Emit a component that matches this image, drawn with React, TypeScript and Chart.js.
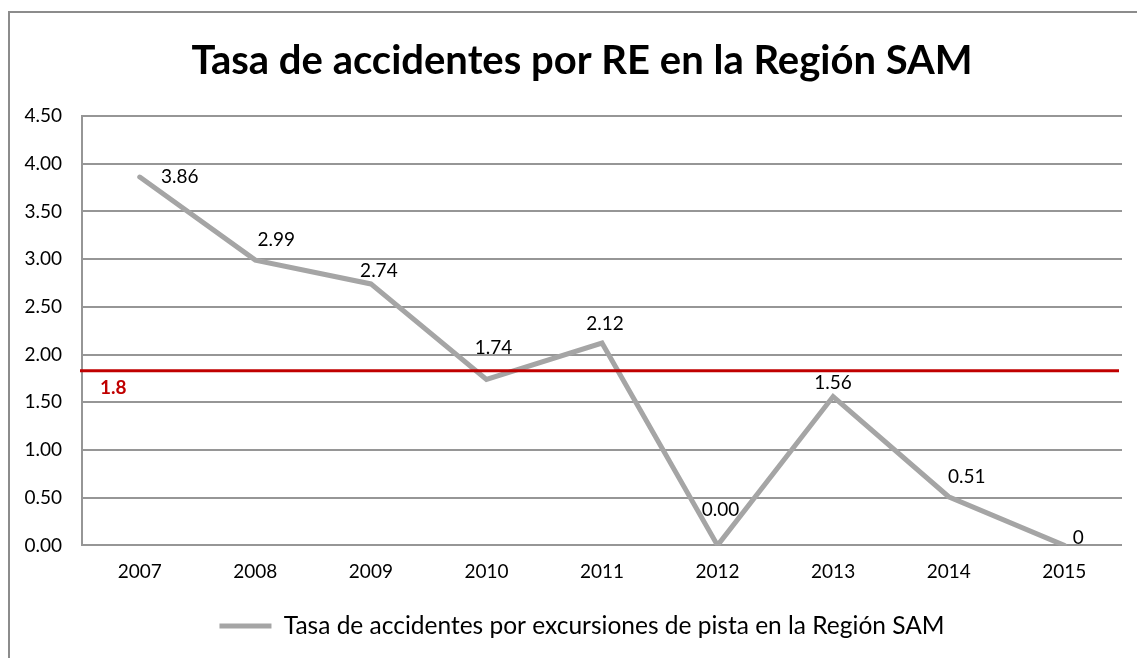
import React, { useEffect, useRef } from 'react';
import { Chart, registerables } from 'chart.js';

Chart.register(...registerables);

const YEARS = ['2007', '2008', '2009', '2010', '2011', '2012', '2013', '2014', '2015'];
const RATES = [3.86, 2.99, 2.74, 1.74, 2.12, 0.0, 1.56, 0.51, 0];
const RATE_LABELS = ['3.86', '2.99', '2.74', '1.74', '2.12', '0.00', '1.56', '0.51', '0'];
const Y_TICKS = [0, 0.5, 1, 1.5, 2, 2.5, 3, 3.5, 4, 4.5];
const THRESHOLD = 1.83;
const THRESHOLD_LABEL = '1.8';
const TITLE = 'Tasa de accidentes por RE en la Región SAM';
const SERIES_NAME = 'Tasa de accidentes por excursiones de pista en la Región SAM';

// pixel offsets of each value label relative to its point (label styling)
const LABEL_OFFSETS: [number, number][] = [
  [40, 0], [21, -20], [8, -13], [7, -31], [3, -19], [3, -36], [0, -14], [18, -20], [14, -8],
];

const overlayPlugin = {
  id: 'overlay',
  afterDatasetsDraw(chart: any) {
    const { ctx, chartArea, scales } = chart;
    const y = scales.y.getPixelForValue(THRESHOLD);
    ctx.save();
    const meta = chart.getDatasetMeta(0);
    ctx.font = '19px Lato';
    ctx.fillStyle = '#000000';
    ctx.textAlign = 'center';
    ctx.textBaseline = 'middle';
    meta.data.forEach((el: any, i: number) => {
      const [dx, dy] = LABEL_OFFSETS[i];
      ctx.fillText(RATE_LABELS[i], el.x + dx, el.y + dy);
    });
    ctx.strokeStyle = '#C00000';
    ctx.lineWidth = 3;
    ctx.beginPath();
    ctx.moveTo(chartArea.left - 2, y);
    ctx.lineTo(chartArea.right - 3, y);
    ctx.stroke();
    ctx.font = 'bold 19px Lato';
    ctx.fillStyle = '#C00000';
    ctx.textAlign = 'left';
    ctx.fillText(THRESHOLD_LABEL, chartArea.left + 18, y + 17);
    ctx.restore();
  },
};

export default function App() {
  const ref = useRef<HTMLCanvasElement>(null);
  useEffect(() => {
    if (!ref.current) return;
    Chart.defaults.font.family = 'Lato';
    const chart = new Chart(ref.current, {
      type: 'line',
      data: {
        labels: YEARS,
        datasets: [
          {
            label: SERIES_NAME,
            data: RATES,
            borderColor: '#A5A5A5',
            backgroundColor: '#A5A5A5',
            borderWidth: 5,
            borderCapStyle: 'round',
            pointRadius: 0,
            pointHoverRadius: 0,
            tension: 0,
            fill: false,
          },
        ],
      },
      options: {
        responsive: false,
        animation: false,
        layout: { padding: { left: 0, right: 2, top: 0, bottom: 9.75 } },
        plugins: {
          title: {
            display: true,
            text: TITLE,
            color: '#000000',
            font: { family: 'Lato', size: 40, weight: 'bold', lineHeight: 1.2 },
            padding: { top: 24, bottom: 31 },
          },
          legend: {
            display: true,
            position: 'bottom',
            labels: {
              usePointStyle: true,
              pointStyle: 'line',
              pointStyleWidth: 52,
              boxHeight: 5,
              color: '#000000',
              font: { family: 'Lato', size: 24.5 },
              padding: 15.55,
            },
          },
          tooltip: { enabled: false },
        },
        scales: {
          x: {
            offset: true,
            grid: { display: false, drawTicks: false },
            border: { display: false },
            ticks: { color: '#000000', font: { size: 19 }, padding: 15, maxRotation: 0 },
          },
          y: {
            min: 0,
            max: 4.5,
            afterFit(scale: any) {
              scale.width = 72;
            },
            afterBuildTicks(scale: any) {
              scale.ticks = Y_TICKS.map((v) => ({ value: v }));
            },
            grid: { color: '#969696', lineWidth: 2, drawTicks: false },
            border: { display: true, color: '#969696', width: 2 },
            ticks: {
              color: '#000000',
              font: { size: 19 },
              padding: 20,
              callback: (v: any) => Number(v).toFixed(2),
            },
          },
          yRight: {
            position: 'right',
            display: true,
            afterFit(scale: any) {
              scale.width = 32;
            },
            grid: { display: false, drawTicks: false },
            border: { display: false },
            ticks: { display: false },
          },
        },
      },
      plugins: [overlayPlugin],
    } as any);
    return () => chart.destroy();
  }, []);

  return (
    <div
      style={{
        position: 'absolute',
        left: 8,
        top: 11,
        width: 1129,
        height: 647,
        overflow: 'hidden',
        borderLeft: '2px solid #8c8c8c',
        borderTop: '2px solid #8c8c8c',
        boxSizing: 'border-box',
        background: '#ffffff',
      }}
    >
      <canvas ref={ref} width={1146} height={645} style={{ display: 'block' }} />
    </div>
  );
}
